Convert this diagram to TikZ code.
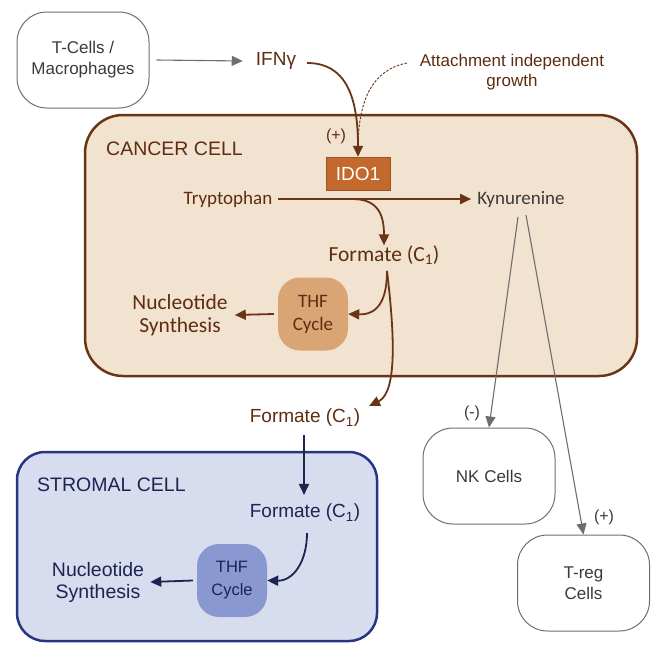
\documentclass[tikz,border=0pt]{standalone}
\usepackage{fontspec}
\setmainfont{Liberation Sans}
\newfontfamily\calfont{Carlito}
\usetikzlibrary{arrows.meta,calc}
\definecolor{brn}{HTML}{5E2C10}
\definecolor{cfill}{HTML}{F2E2D0}
\definecolor{cdraw}{HTML}{6A3515}
\definecolor{idofill}{HTML}{C4692D}
\definecolor{thfA}{HTML}{D9A574}
\definecolor{sfill}{HTML}{D8DCEF}
\definecolor{sdraw}{HTML}{283580}
\definecolor{thfB}{HTML}{8A98D1}
\definecolor{navy}{HTML}{1E2452}
\definecolor{gry}{HTML}{6E6E6E}
\definecolor{txtg}{HTML}{3A3A3A}
\begin{document}
\begin{tikzpicture}[x=1pt,y=-1pt,
  cellbox/.style={draw=gry, line width=1pt, rounded corners=30pt, minimum width=132pt, minimum height=96pt, align=center, text=txtg, inner sep=0pt, font=\fontsize{17}{21}\selectfont},
  lbl/.style={inner sep=0pt, align=center},
  brarrow/.style={draw=cdraw, line width=1.8pt, -{Triangle[length=11pt,width=10pt]}},
  nvarrow/.style={draw=navy, line width=1.8pt, -{Triangle[length=11pt,width=10pt]}},
  gyarrow/.style={draw=gry, line width=1.1pt, -{Triangle[length=11pt,width=10pt]}},
  thfbox/.style={rounded corners=22pt, minimum width=70pt, minimum height=73pt, inner sep=0pt, align=center}
]
\useasboundingbox (0,0) rectangle (664,664);
% cell containers
\node[draw=cdraw, fill=cfill, line width=2.5pt, rounded corners=38pt, minimum width=552pt, minimum height=261pt, inner sep=0pt] (cancer) at (361,245.5) {};
\node[draw=sdraw, fill=sfill, line width=2.5pt, rounded corners=28pt, minimum width=360pt, minimum height=189pt, inner sep=0pt] (stromal) at (197,546.5) {};

% outside boxes
\node[cellbox] (tcell) at (83,60) {T-Cells /\\Macrophages};
\node[cellbox] (nk) at (489,476) {NK Cells};
\node[cellbox] (treg) at (583.5,583) {T-reg\\Cells};

% texts
\node[lbl, text=brn, font=\fontsize{19}{22}\selectfont] (ifn) at (276,61) {IFNγ};
\node[lbl, text=brn, font=\fontsize{17}{20}\selectfont] (attach) at (512,72) {Attachment independent\\growth};
\node[lbl, text=brn, font=\fontsize{19.5}{22}\selectfont, anchor=west] (clab) at (106,149) {CANCER CELL};
\node[lbl, text=brn, font=\fontsize{16}{19}\selectfont] (plus1) at (336,136) {(+)};
\node[draw=idofill!80!black, line width=0.5pt, fill=idofill, minimum width=64pt, minimum height=33pt, inner sep=0pt, text=white, font=\fontsize{19}{22}\selectfont] (ido) at (358,173.5) {IDO1};
\node[lbl, text=brn, font=\calfont\fontsize{19}{22}\selectfont] (tryp) at (228,199) {Tryptophan};
\node[lbl, text=txtg, font=\calfont\fontsize{19}{22}\selectfont] (kyn) at (521,199) {Kynurenine};
\node[lbl, text=brn, font=\calfont\fontsize{21.5}{24}\selectfont] (form1) at (384,255) {Formate (C\textsubscript{1})};
\node[thfbox, fill=thfA, text=brn, font=\calfont\fontsize{19}{23}\selectfont] (thf1) at (313,314) {THF\\Cycle};
\node[lbl, text=brn, font=\calfont\fontsize{21.5}{23}\selectfont] (nuc1) at (180,315) {Nucleotide\\Synthesis};

\node[lbl, text=brn, font=\fontsize{19}{22}\selectfont] (form2) at (305,418) {Formate (C\textsubscript{1})};
\node[lbl, text=navy, font=\fontsize{19.5}{22}\selectfont, anchor=west] (slab) at (37,485) {STROMAL CELL};
\node[lbl, text=navy, font=\fontsize{19}{22}\selectfont] (form3) at (305,513) {Formate (C\textsubscript{1})};
\node[thfbox, fill=thfB, text=navy, font=\fontsize{16.5}{23}\selectfont] (thf2) at (232,580.5) {THF\\Cycle};
\node[lbl, text=navy, font=\fontsize{19.5}{22}\selectfont] (nuc2) at (98,582) {Nucleotide\\Synthesis};

\node[lbl, text=txtg, font=\fontsize{16}{19}\selectfont] (minus) at (472,413) {(-)};
\node[lbl, text=txtg, font=\fontsize{16}{19}\selectfont] (plus2) at (604,517) {(+)};

% connectors
\coordinate (ifnend) at (307,63);
\coordinate (attend) at (407,63);
\draw[gyarrow] ($(tcell.east)+(7,0)$) -- ($(ifn.west)+(-13,0)$);
\draw[brarrow] (ifnend) .. controls (345,63) and (358,95) .. (ido.north);
\draw[draw=cdraw, line width=0.9pt, dash pattern=on 2.5pt off 1.5pt] (attend) .. controls (372,70) and (359,100) .. (358,145);
\draw[brarrow] ($(tryp.east)+(6,0)$) -- ($(kyn.west)+(-6,0)$);
\draw[brarrow] (352,199) .. controls (376,199) and (384,212) .. (form1.north);
\draw[brarrow] (387,271) .. controls (387,300) and (378,315) .. (thf1.east);
\draw[brarrow] (387,271) .. controls (394,330) and (398,392) .. (369,406);
\draw[brarrow] ($(thf1.west)+(-4,0)$) -- ($(nuc1.east)+(7,0)$);
\draw[gyarrow] (518,217) -- (nk.north);
\draw[gyarrow] (526,215) -- (treg.north);
\draw[nvarrow] ($(form2.south)+(-1,8)$) -- ($(form3.north)+(-1,-9)$);
\draw[nvarrow] (307,533) .. controls (307,562) and (293,581) .. (thf2.east);
\draw[nvarrow] ($(thf2.west)+(-4,0)$) -- ($(nuc2.east)+(6,0)$);
\end{tikzpicture}
\end{document}
